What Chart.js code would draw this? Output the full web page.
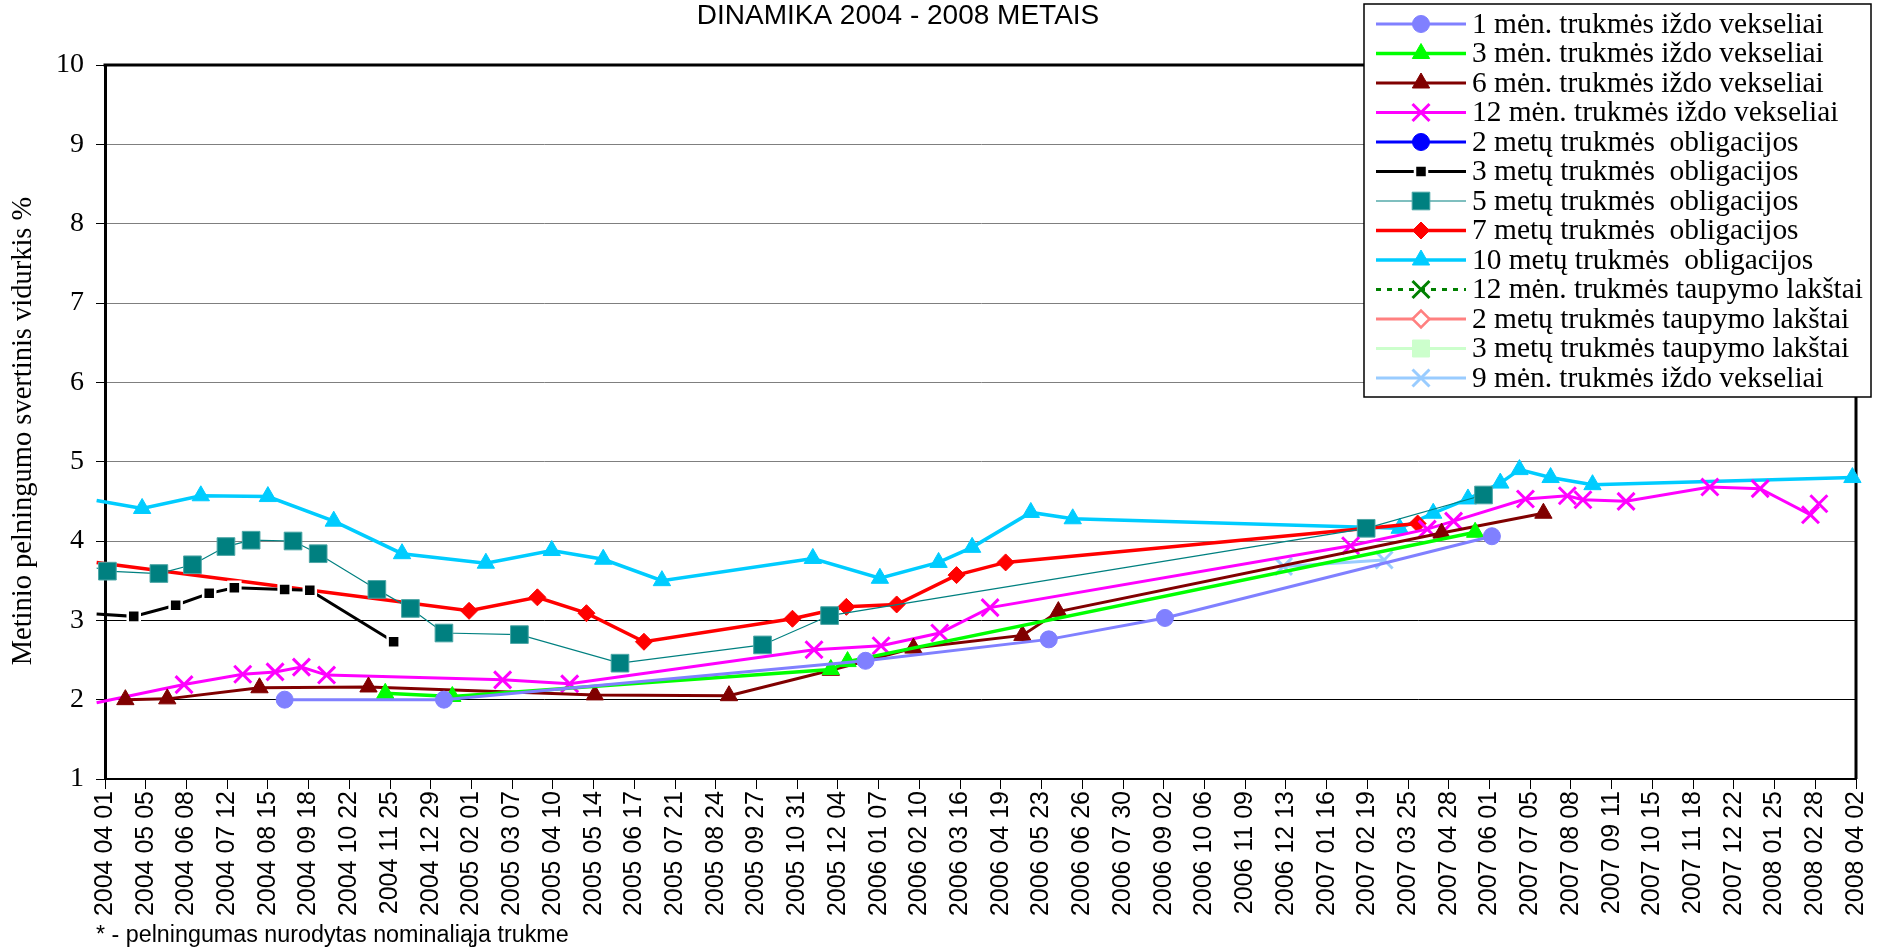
<!DOCTYPE html>
<html>
<head>
<meta charset="utf-8">
<script src="https://cdn.jsdelivr.net/npm/chart.js"></script>
<style>
  html, body { margin: 0; padding: 0; background: #fff; }
  canvas { display: block; }
</style>
</head>
<body>
<canvas id="yieldChart" width="1888" height="952"></canvas>
<script>
// axis range (x is a date axis, ticks every 34 days like the original)
const axisStart = '2004-04-01';
const axisEnd = '2008-04-02';
const tickStepDays = 34;
const yMin = 1;
const yMax = 10;

const titleText = 'DINAMIKA 2004 - 2008 METAIS';
const yTitle = 'Metinio pelningumo svertinis vidurkis %';
const footNote = '* - pelningumas nurodytas nominaliąja trukme';

const seriesNames = [
    '1 mėn. trukmės iždo vekseliai',
    '3 mėn. trukmės iždo vekseliai',
    '6 mėn. trukmės iždo vekseliai',
    '12 mėn. trukmės iždo vekseliai',
    '2 metų trukmės  obligacijos',
    '3 metų trukmės  obligacijos',
    '5 metų trukmės  obligacijos',
    '7 metų trukmės  obligacijos',
    '10 metų trukmės  obligacijos',
    '12 mėn. trukmės taupymo lakštai',
    '2 metų trukmės taupymo lakštai',
    '3 metų trukmės taupymo lakštai',
    '9 mėn. trukmės iždo vekseliai'
];

// [date, yield %]
const bills1m = [['2004-08-29', 2.00], ['2005-01-09', 2.00], ['2005-12-27', 2.49], ['2006-05-29', 2.76],
    ['2006-09-03', 3.03], ['2007-06-03', 4.06]];
const bills3m = [['2004-11-21', 2.08], ['2005-01-16', 2.04], ['2005-11-28', 2.38], ['2005-12-12', 2.48],
    ['2007-05-20', 4.11]];
const bills6m = [['2004-04-18', 2.00], ['2004-05-23', 2.01], ['2004-08-08', 2.15], ['2004-11-07', 2.16],
    ['2005-05-15', 2.06], ['2005-09-04', 2.05], ['2005-11-28', 2.37], ['2006-02-05', 2.65],
    ['2006-05-07', 2.81], ['2006-06-06', 3.11], ['2007-04-22', 4.10], ['2007-07-16', 4.35]];
const bills12m = [['2004-03-25', 1.96], ['2004-06-06', 2.19], ['2004-07-25', 2.32], ['2004-08-21', 2.35],
    ['2004-09-12', 2.41], ['2004-10-03', 2.31], ['2005-02-27', 2.25], ['2005-04-24', 2.20],
    ['2005-11-14', 2.63], ['2006-01-09', 2.68], ['2006-02-27', 2.84], ['2006-04-10', 3.16],
    ['2007-02-05', 3.94], ['2007-04-10', 4.15], ['2007-05-02', 4.25], ['2007-07-01', 4.53],
    ['2007-08-05', 4.57], ['2007-08-18', 4.52], ['2007-09-23', 4.50], ['2007-12-02', 4.68],
    ['2008-01-13', 4.66], ['2008-02-24', 4.33], ['2008-03-02', 4.47]];
const bonds2y = [];
const bonds3y = [['2004-03-25', 3.08], ['2004-04-25', 3.05], ['2004-05-30', 3.19], ['2004-06-27', 3.34],
    ['2004-07-18', 3.41], ['2004-08-29', 3.39], ['2004-09-19', 3.38], ['2004-11-28', 2.73]];
const bonds5y = [['2004-03-25', 3.66], ['2004-04-03', 3.62], ['2004-05-16', 3.59], ['2004-06-13', 3.70],
    ['2004-07-11', 3.93], ['2004-08-01', 4.01], ['2004-09-05', 4.00], ['2004-09-26', 3.84],
    ['2004-11-14', 3.39], ['2004-12-12', 3.15], ['2005-01-09', 2.84], ['2005-03-13', 2.82],
    ['2005-06-05', 2.46], ['2005-10-02', 2.69], ['2005-11-27', 3.06], ['2007-02-18', 4.16],
    ['2007-05-27', 4.58]];
const bonds7y = [['2004-03-25', 3.73], ['2005-01-30', 3.12], ['2005-03-28', 3.29], ['2005-05-08', 3.09],
    ['2005-06-25', 2.73], ['2005-10-27', 3.02], ['2005-12-11', 3.17], ['2006-01-22', 3.20],
    ['2006-03-13', 3.57], ['2006-04-23', 3.73], ['2007-04-02', 4.22]];
const bonds10y = [['2004-03-25', 4.51], ['2004-05-02', 4.41], ['2004-06-20', 4.57], ['2004-08-15', 4.56],
    ['2004-10-09', 4.25], ['2004-12-05', 3.84], ['2005-02-13', 3.72], ['2005-04-09', 3.88],
    ['2005-05-22', 3.77], ['2005-07-10', 3.50], ['2005-11-13', 3.78], ['2006-01-08', 3.53],
    ['2006-02-26', 3.73], ['2006-03-26', 3.92], ['2006-05-14', 4.36], ['2006-06-18', 4.28],
    ['2007-03-18', 4.16], ['2007-04-15', 4.35], ['2007-05-14', 4.53], ['2007-06-10', 4.73],
    ['2007-06-26', 4.90], ['2007-07-22', 4.80], ['2007-08-26', 4.71], ['2008-03-30', 4.80]];
const savings12m = [];
const savings2y = [];
const savings3y = [];
const bills9m = [['2006-12-11', 3.68], ['2007-03-05', 3.76]];


const DAY = 86400000;
function utc(s) {
    let p = s.split('-').map(Number);
    return Date.UTC(p[0], p[1] - 1, p[2]);
}
function dayOf(s) {
    return Math.round((utc(s) - utc(axisStart)) / DAY);
}
function pad2(n) {
    return (n < 10 ? '0' : '') + n;
}
function dateLabel(days) {
    let d = new Date(utc(axisStart) + days * DAY);
    return d.getUTCFullYear() + ' ' + pad2(d.getUTCMonth() + 1) + ' ' + pad2(d.getUTCDate());
}

function makeSet(idx, rows, line, mark) {
    return {
        label: seriesNames[idx],
        data: rows.map(r => ({x: dayOf(r[0]), y: r[1]})),
        borderColor: line.color,
        borderWidth: line.width,
        borderDash: line.dash || [],
        pointStyle: mark.style,
        // points dated before the axis start only leave their line stub
        pointRadius: c => (c.raw && c.raw.x < 0) ? 0 : mark.radius,
        pointHoverRadius: mark.radius,
        pointBackgroundColor: mark.fill,
        pointBorderColor: mark.stroke,
        pointBorderWidth: mark.width,
        tension: 0,
        clip: 12,
        mark: mark
    };
}

const datasets = [
    makeSet(0, bills1m, {color: '#8080FF', width: 3}, {style: 'circle', radius: 8.5, fill: '#8080FF', stroke: '#8080FF', width: 1}),
    makeSet(1, bills3m, {color: '#00FF00', width: 3.5}, {style: 'triangle', radius: 10, fill: '#00FF00', stroke: '#00FF00', width: 1}),
    makeSet(2, bills6m, {color: '#800000', width: 3}, {style: 'triangle', radius: 10, fill: '#800000', stroke: '#800000', width: 1}),
    makeSet(3, bills12m, {color: '#FF00FF', width: 3}, {style: 'crossRot', radius: 12, fill: '#FF00FF', stroke: '#FF00FF', width: 3}),
    makeSet(4, bonds2y, {color: '#0000FF', width: 3}, {style: 'circle', radius: 8.5, fill: '#0000FF', stroke: '#0000FF', width: 1}),
    makeSet(5, bonds3y, {color: '#000000', width: 3}, {style: 'rect', radius: 8.5, fill: '#000000', stroke: '#FFFFFF', width: 2.5}),
    makeSet(6, bonds5y, {color: '#008080', width: 1.2}, {style: 'rect', radius: 12.5, fill: '#008080', stroke: '#4DA6A6', width: 1}),
    makeSet(7, bonds7y, {color: '#FF0000', width: 3.5}, {style: 'rectRot', radius: 8.5, fill: '#FF0000', stroke: '#FF0000', width: 1}),
    makeSet(8, bonds10y, {color: '#00CCFF', width: 3.5}, {style: 'triangle', radius: 10, fill: '#00CCFF', stroke: '#00CCFF', width: 1}),
    makeSet(9, savings12m, {color: '#008000', width: 3, dash: [5, 6]}, {style: 'crossRot', radius: 12, fill: '#008000', stroke: '#008000', width: 3}),
    makeSet(10, savings2y, {color: '#FF8080', width: 3}, {style: 'rectRot', radius: 8.5, fill: '#FFFFFF', stroke: '#FF8080', width: 2.5}),
    makeSet(11, savings3y, {color: '#CCFFCC', width: 3}, {style: 'rect', radius: 12, fill: '#CCFFCC', stroke: '#CCFFCC', width: 1}),
    makeSet(12, bills9m, {color: '#99CCFF', width: 3}, {style: 'crossRot', radius: 12, fill: '#99CCFF', stroke: '#99CCFF', width: 3})
];

const SANS = '"Liberation Sans", Arial, sans-serif';
const SERIF = '"Liberation Serif", "Times New Roman", serif';

const decorPlugin = {
    id: 'decor',
    beforeDraw(chart) {
        let ctx = chart.ctx;
        ctx.save();
        ctx.fillStyle = '#fff';
        ctx.fillRect(0, 0, chart.width, chart.height);
        ctx.restore();
    },
    beforeDatasetsDraw(chart) {
        // top and right frame of the plot area
        let ctx = chart.ctx, a = chart.chartArea;
        ctx.save();
        ctx.strokeStyle = '#000';
        ctx.lineWidth = 3;
        ctx.beginPath();
        ctx.moveTo(a.left - 1.5, a.top);
        ctx.lineTo(a.right, a.top);
        ctx.lineTo(a.right, a.bottom);
        ctx.stroke();
        ctx.restore();
    },
    afterDraw(chart) {
        let ctx = chart.ctx;
        ctx.save();

        ctx.fillStyle = '#000';
        ctx.font = '28px ' + SANS;
        ctx.textAlign = 'center';
        ctx.textBaseline = 'alphabetic';
        ctx.fillText(titleText, 898, 24);

        ctx.font = '23.3px ' + SANS;
        ctx.textAlign = 'left';
        ctx.fillText(footNote, 96, 942);

        // y axis title
        ctx.save();
        ctx.translate(24, 431);
        ctx.rotate(-Math.PI / 2);
        ctx.font = '28.5px ' + SERIF;
        ctx.textAlign = 'center';
        ctx.textBaseline = 'middle';
        ctx.fillText(yTitle, 0, 0);
        ctx.restore();

        // legend box
        let box = {left: 1364, top: 4, right: 1871, bottom: 397};
        ctx.fillStyle = '#fff';
        ctx.fillRect(box.left, box.top, box.right - box.left, box.bottom - box.top);
        ctx.strokeStyle = '#000';
        ctx.lineWidth = 1.5;
        ctx.strokeRect(box.left, box.top, box.right - box.left, box.bottom - box.top);

        chart.data.datasets.forEach((ds, i) => {
            let y = 24 + i * 29.5;
            ctx.setLineDash(ds.borderDash);
            ctx.strokeStyle = ds.borderColor;
            ctx.lineWidth = ds.borderWidth;
            ctx.beginPath();
            ctx.moveTo(1376, y);
            ctx.lineTo(1466, y);
            ctx.stroke();
            ctx.setLineDash([]);

            let m = ds.mark;
            ctx.fillStyle = m.fill;
            ctx.strokeStyle = m.stroke;
            ctx.lineWidth = m.width;
            Chart.helpers.drawPoint(ctx, {pointStyle: m.style, radius: m.radius, rotation: 0, borderWidth: m.width}, 1421, y);

            ctx.fillStyle = '#000';
            ctx.font = '29.4px ' + SERIF;
            ctx.textAlign = 'left';
            ctx.textBaseline = 'middle';
            ctx.fillText(ds.label, 1472, y + 1);
        });
        ctx.restore();
    }
};

const config = {
    type: 'line',
    data: {datasets: datasets},
    options: {
        responsive: false,
        animation: false,
        devicePixelRatio: 1,
        layout: {padding: {top: 65, right: 28, bottom: 0, left: 0}},
        plugins: {
            legend: {display: false},
            tooltip: {enabled: false},
            title: {display: false}
        },
        scales: {
            x: {
                type: 'linear',
                min: 0,
                max: dayOf(axisEnd),
                afterFit: s => { s.height = 173; },
                grid: {drawOnChartArea: false, tickLength: 10, tickColor: '#000', tickWidth: 1},
                border: {color: '#000', width: 2},
                ticks: {
                    stepSize: tickStepDays,
                    autoSkip: false,
                    minRotation: 90,
                    maxRotation: 90,
                    padding: 2,
                    color: '#000',
                    font: {family: SANS, size: 25},
                    callback: v => dateLabel(v)
                }
            },
            y: {
                min: yMin,
                max: yMax,
                afterFit: s => { s.width = 105; },
                grid: {
                    color: c => (c.tick && c.tick.value >= 4) ? '#7f7f7f' : '#000',
                    lineWidth: 1,
                    tickLength: 9,
                    tickColor: '#000'
                },
                border: {color: '#000', width: 3},
                ticks: {
                    stepSize: 1,
                    padding: 12,
                    color: '#000',
                    font: {family: SERIF, size: 28}
                }
            }
        }
    },
    plugins: [decorPlugin]
};

var yieldChart = new Chart(document.getElementById('yieldChart'), config);
</script>
</body>
</html>
